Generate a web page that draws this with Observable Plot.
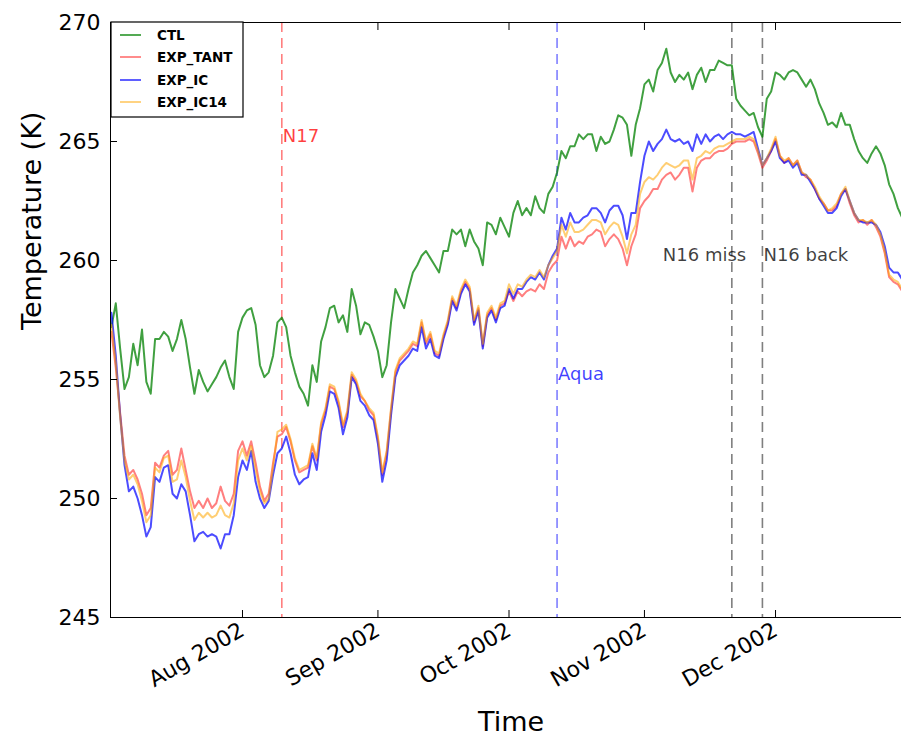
<!DOCTYPE html>
<html>
<head>
<meta charset="utf-8">
<script src="https://cdn.jsdelivr.net/npm/d3@7"></script>
<script src="https://cdn.jsdelivr.net/npm/@observablehq/plot@0.6"></script>
<style>
  body { margin: 0; background: #fff; }
  #chart { width: 901px; height: 738px; overflow: hidden; }
</style>
</head>
<body>
<div id="chart"></div>
<script>
// ---- data (daily values from 2002-07-02) ----
const startDay = "2002-07-02";

const ctl = [
  257.2, 258.2, 256.3, 254.6, 255.1, 256.5, 255.6, 257.1, 254.9, 254.4,
  256.7, 256.7, 257.0, 256.8, 256.2, 256.7, 257.5, 256.7, 255.5, 254.4,
  255.4, 254.9, 254.5, 254.8, 255.1, 255.5, 255.8, 255.1, 254.6, 257.0,
  257.6, 257.9, 258.0, 257.3, 255.6, 255.1, 255.3, 256.0,
  257.4, 257.6, 257.2, 256.0, 255.3, 254.7, 254.4, 253.9, 255.6, 254.9,
  256.6, 257.2, 258.0, 258.1, 257.4, 257.7, 257.0, 258.8, 258.1, 256.9,
  257.4, 257.3, 256.8, 256.2, 255.1, 255.6, 257.4, 258.8, 258.4, 258.0,
  258.8, 259.5, 259.8, 260.2, 260.4, 260.1,
  259.8, 259.5, 260.4, 260.4, 261.3, 261.1, 261.3, 260.6, 261.3, 260.8,
  260.5, 259.8, 261.6, 261.5, 261.1, 261.8, 261.4, 261.0, 262.0, 262.5,
  261.9, 262.2, 261.9, 262.7, 262.2, 262.0, 262.8, 263.1, 263.7, 264.6,
  264.3, 264.8, 264.8, 265.3, 265.1, 265.3, 265.3,
  264.6, 265.2, 264.9, 265.0, 265.5, 266.1, 266.0, 265.7, 264.4, 265.7,
  266.4, 267.4, 267.6, 267.1, 268.0, 268.3, 268.9, 267.9, 267.5, 267.8,
  267.6, 267.9, 267.2, 267.8, 268.1, 267.5, 268.0, 268.0, 268.4, 268.3,
  268.2, 268.2, 266.8, 266.5, 266.3, 266.1,
  266.2, 265.6, 265.2, 266.8, 267.1, 267.9, 267.8, 267.6, 267.9, 268.0,
  267.9, 267.6, 267.3, 267.6, 267.2, 266.6, 266.2, 265.7, 265.8, 265.6,
  266.2, 265.7, 265.7, 265.1, 264.6, 264.3, 264.1, 264.5, 264.8, 264.5,
  264.0, 263.2, 262.8, 262.2, 261.8
];

const expTant = [
  257.0, 255.5, 253.6, 251.8, 251.0, 251.2, 250.8, 250.2, 249.3, 249.6,
  251.5, 251.3, 251.8, 252.0, 251.0, 251.2, 252.1, 251.2, 250.3, 249.6,
  249.9, 249.6, 250.0, 249.6, 249.8, 250.5, 249.9, 249.7, 250.2, 252.0,
  252.4, 251.8, 252.4, 251.5, 250.5, 249.9, 250.2, 251.5,
  252.6, 252.7, 253.0, 252.4, 251.6, 251.1, 251.2, 251.3, 252.2, 251.6,
  253.1, 253.7, 254.7, 254.6, 254.0, 253.0, 253.6, 255.2, 254.9, 254.3,
  254.1, 253.7, 253.5, 252.5, 251.0, 251.9, 253.7, 255.3, 255.8, 256.0,
  256.2, 256.5, 256.4, 257.4, 256.5, 256.9,
  256.1, 256.0, 256.8, 257.4, 258.4, 258.0, 258.7, 259.1, 258.8, 257.4,
  258.0, 256.4, 257.7, 258.0, 257.5, 258.1, 258.2, 258.7, 258.3, 258.7,
  258.5, 258.7, 258.8, 258.7, 259.0, 258.8, 259.5, 259.8, 260.0, 261.0,
  260.5, 261.0, 260.6, 260.8, 260.7, 261.0, 261.1,
  261.3, 261.2, 260.6, 260.9, 261.1, 260.9, 260.5, 259.8, 260.6, 261.1,
  262.2, 262.5, 262.7, 263.0, 263.0, 263.4, 263.6, 263.7, 263.4, 263.6,
  263.9, 263.9, 262.9, 263.9, 264.2, 264.3, 264.3, 264.5, 264.6, 264.6,
  264.7, 264.9, 265.0, 265.0, 265.0, 265.1,
  265.0, 264.5, 263.9, 264.2, 264.6, 265.1, 264.4, 264.1, 264.3, 264.0,
  264.2, 263.7, 263.5, 263.4, 263.0, 262.6, 262.4, 262.1, 262.1, 262.3,
  262.8, 263.0, 262.4, 261.9, 261.6, 261.7, 261.5, 261.7, 261.4, 261.0,
  260.3, 259.3, 259.1, 259.0, 258.7
];

const expIc = [
  257.8, 256.0, 253.5, 251.4, 250.3, 250.5, 250.0, 249.3, 248.4, 248.8,
  250.9, 250.7, 251.3, 251.4, 250.2, 250.0, 250.6, 250.3, 249.3, 248.2,
  248.5, 248.6, 248.4, 248.5, 248.4, 247.9, 248.5, 248.5, 249.3, 250.9,
  251.6, 251.2, 252.0, 250.7, 250.0, 249.6, 249.9, 251.0,
  251.9, 252.1, 252.6, 251.9, 251.0, 250.6, 250.8, 250.9, 251.9, 251.2,
  252.8, 253.5, 254.5, 254.4, 253.8, 252.7, 253.4, 255.1, 254.8, 254.1,
  253.9, 253.5, 253.3, 252.3, 250.7, 251.6, 253.5, 255.1, 255.6, 255.8,
  256.0, 256.3, 256.2, 257.2, 256.3, 256.7,
  256.0, 255.9, 256.7, 257.3, 258.3, 257.9, 258.6, 259.0, 258.7, 257.3,
  257.9, 256.3, 257.6, 257.9, 257.4, 258.0, 258.1, 258.8, 258.4, 258.8,
  258.8, 259.1, 259.3, 259.2, 259.5, 259.2, 259.8, 260.2, 260.5, 261.8,
  261.3, 262.0, 261.6, 261.6, 261.8, 261.9, 262.2,
  262.2, 262.0, 261.6, 262.1, 262.3, 262.3, 261.9, 260.9, 262.0, 262.0,
  263.3, 264.4, 265.0, 264.6, 264.9, 265.1, 265.5, 265.1, 265.0, 265.1,
  264.9, 265.0, 264.6, 265.3, 264.9, 265.3, 265.0, 265.2, 265.3, 265.1,
  265.3, 265.4, 265.3, 265.3, 265.2, 265.3,
  265.4, 264.7, 264.0, 264.3, 264.6, 265.0, 264.3, 264.1, 264.2, 263.9,
  264.1, 263.6, 263.6, 263.3, 263.0, 262.6, 262.3, 262.0, 262.0, 262.2,
  262.7, 263.0, 262.5, 262.0, 261.7, 261.6, 261.6, 261.6, 261.5, 261.2,
  260.6, 259.7, 259.5, 259.5, 259.2
];

const expIc14 = [
  257.3, 255.7, 253.4, 251.6, 250.8, 251.0, 250.6, 249.9, 249.0, 249.3,
  251.3, 251.1, 251.7, 251.8, 250.7, 250.8, 251.6, 250.9, 249.9, 249.1,
  249.4, 249.2, 249.4, 249.2, 249.3, 249.7, 249.3, 249.2, 249.8, 251.6,
  252.1, 251.6, 252.2, 251.2, 250.3, 249.8, 250.0, 251.3,
  252.8, 252.9, 253.1, 252.5, 251.7, 251.2, 251.3, 251.4, 252.3, 251.7,
  253.2, 253.8, 254.8, 254.7, 254.1, 253.1, 253.7, 255.3, 255.0, 254.4,
  254.1, 253.8, 253.6, 252.6, 251.1, 252.0, 253.8, 255.4, 255.9, 256.1,
  256.3, 256.6, 256.5, 257.5, 256.6, 257.0,
  256.2, 256.1, 256.9, 257.5, 258.5, 258.1, 258.8, 259.2, 258.9, 257.5,
  258.1, 256.5, 257.8, 258.1, 257.6, 258.2, 258.3, 259.0, 258.6, 259.0,
  258.9, 259.2, 259.4, 259.3, 259.6, 259.3, 259.8, 260.1, 260.4, 261.5,
  261.0, 261.6, 261.2, 261.2, 261.3, 261.5, 261.7,
  261.7, 261.6, 261.1, 261.4, 261.6, 261.5, 261.0, 260.3, 261.1, 261.5,
  262.8, 263.3, 263.5, 263.4, 263.6, 263.9, 264.1, 264.0, 263.9, 264.0,
  264.2, 264.2, 263.4, 264.3, 264.4, 264.6, 264.5, 264.7, 264.8, 264.8,
  264.9, 265.0, 265.1, 265.1, 265.1, 265.2,
  265.1, 264.6, 264.0, 264.3, 264.7, 265.2, 264.4, 264.2, 264.3, 264.0,
  264.2, 263.7, 263.6, 263.4, 263.1, 262.7, 262.4, 262.1, 262.2, 262.4,
  262.8, 263.1, 262.5, 262.0, 261.7, 261.7, 261.6, 261.7, 261.5, 261.1,
  260.4, 259.4, 259.2, 259.1, 258.8
];

const seriesNames = ["CTL", "EXP_TANT", "EXP_IC", "EXP_IC14"];
const seriesValues = [ctl, expTant, expIc, expIc14];

const eventLabels = ["N17", "Aqua", "N16 miss", "N16 back"];
const eventDates = ["2002-08-10", "2002-10-12", "2002-11-21", "2002-11-28"];
const eventTextY = [265, 255, 260, 260];

const yTicks = [245, 250, 255, 260, 265, 270];
const xTicks = ["2002-08-01", "2002-09-01", "2002-10-01", "2002-11-01", "2002-12-01"];

// ---- styles ----
const seriesColors = ["#008000", "#ff0000", "#0000ff", "#ffa500"];
const seriesOpacity = [0.75, 0.5, 0.7, 0.55];
const eventColors = ["#ff0000", "#0000ff", "#000000", "#000000"];

// ---- build ----
const day0 = new Date(startDay + "T00:00:00Z");
const dates = ctl.map((_, i) => d3.utcDay.offset(day0, i));
const rows = [];
seriesNames.forEach((name, s) => {
  seriesValues[s].forEach((v, i) => rows.push({date: dates[i], value: v, series: name}));
});
const events = eventLabels.map((label, i) => ({
  label, date: new Date(eventDates[i] + "T00:00:00Z"), y: eventTextY[i], color: eventColors[i]
}));
const xt = xTicks.map(d => new Date(d + "T00:00:00Z"));
const xDomain = [new Date(Date.UTC(2002, 6, 1, 19)), new Date(Date.UTC(2002, 11, 29, 20))];

const lineMarks = seriesNames.map((name, s) =>
  Plot.line(rows.filter(r => r.series === name), {
    x: "date", y: "value", stroke: seriesColors[s], strokeOpacity: seriesOpacity[s],
    strokeWidth: 2, clip: true
  })
);

const chart = Plot.plot({
  width: 901,
  height: 738,
  marginLeft: 110,
  marginRight: 0,
  marginTop: 22,
  marginBottom: 121,
  style: {fontFamily: "DejaVu Sans", background: "white", color: "black"},
  x: {type: "utc", domain: xDomain},
  y: {domain: [245, 270]},
  marks: [
    Plot.ruleX(events, {x: "date", stroke: "color", strokeOpacity: 0.5, strokeWidth: 1.6, strokeDasharray: "10,6"}),
    ...lineMarks,
    Plot.text(events.filter(e => e.label !== "N16 miss"), {
      x: "date", y: "y", text: "label", fill: "color", fillOpacity: 0.75,
      textAnchor: "start", lineAnchor: "bottom", fontSize: 18, dx: 1
    }),
    Plot.text(events.filter(e => e.label === "N16 miss"), {
      x: "date", y: "y", text: "label", fill: "color", fillOpacity: 0.75,
      textAnchor: "start", lineAnchor: "bottom", fontSize: 18, dx: -69
    }),
    Plot.ruleY([245, 270], {stroke: "black", strokeWidth: 1}),
    Plot.ruleX([xDomain[0]], {stroke: "black", strokeWidth: 1}),
    Plot.axisY(yTicks, {anchor: "left", tickSize: -7, tickPadding: 17, fontSize: 22, label: null, tickFormat: d => String(d)}),
    Plot.axisX(xt, {anchor: "bottom", tickSize: -7, tickPadding: 18, tickRotate: -30, fontSize: 22, label: null, tickFormat: d3.utcFormat("%b %Y")}),
    Plot.axisX(xt, {anchor: "top", tickSize: -7, label: null, tickFormat: () => ""}),
    Plot.text(["Temperature (K)"], {frameAnchor: "left", rotate: -90, dx: -78, dy: 10, fontSize: 27}),
    Plot.text(["Time"], {frameAnchor: "bottom", dy: 113, dx: 5, fontSize: 27})
  ]
});

document.getElementById("chart").appendChild(chart);

// legend (inside the plot, upper left)
const svg = d3.select(chart);
const lg = svg.append("g").attr("class", "legend").attr("text-anchor", "start");
lg.append("rect").attr("x", 111).attr("y", 22).attr("width", 132).attr("height", 95)
  .attr("fill", "white").attr("stroke", "black").attr("stroke-width", 1.2);
const rowY = [35, 57, 80, 102];
seriesNames.forEach((name, s) => {
  lg.append("line").attr("x1", 120).attr("x2", 141).attr("y1", rowY[s]).attr("y2", rowY[s])
    .attr("stroke", seriesColors[s]).attr("stroke-opacity", seriesOpacity[s]).attr("stroke-width", 1.8);
  lg.append("text").attr("x", 157).attr("y", rowY[s]).attr("dy", "0.35em")
    .attr("text-anchor", "start")
    .attr("font-family", "DejaVu Sans").attr("font-weight", "bold").attr("font-size", 13.5)
    .attr("fill", "black").text(name);
});
</script>
</body>
</html>
